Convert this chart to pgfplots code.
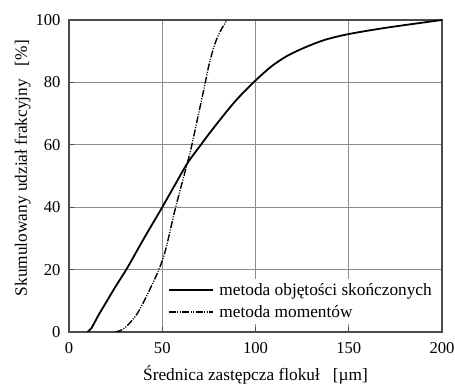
\documentclass[border=0pt]{standalone}
\usepackage{fontspec}
\setmainfont{Liberation Serif}
\usepackage{pgfplots}
\pgfplotsset{compat=1.18}
\begin{document}
\begin{tikzpicture}
\begin{axis}[
  name=ax,
  scale only axis,
  width=373pt, height=312pt,
  xmin=0, xmax=200, ymin=0, ymax=100,
  xtick={0,50,100,150,200},
  ytick={0,20,40,60,80,100},
  font=\fontsize{17.3}{20}\selectfont,
  ticklabel style={font=\fontsize{16.6}{19}\selectfont},
  /pgf/number format/assume math mode=true,
  grid=major,
  major grid style={draw=black!45, line width=0.6pt},
  axis line style={draw=black!70, line width=1.3pt},
  tick style={draw=black!70, line width=0.6pt},
  major tick length=5pt,
  tick align=inside,
  xtick pos=bottom, ytick pos=left,
  yticklabel style={xshift=-5pt},
  xticklabel style={yshift=-7pt},
  xlabel={Średnica zastępcza flokuł \ \ [µm]},
  ylabel={Skumulowany udział frakcyjny \ \ [\%]},
  xlabel style={yshift=-5pt},
  ylabel style={at={(ticklabel cs:0.525)}, yshift=-2pt},
  legend cell align=left,
  legend style={at={(axis cs:200,2.6)}, anchor=south east, xshift=-5pt, draw=none, fill=white,
    font=\fontsize{17.3}{20}\selectfont, inner sep=3pt, row sep=4pt,
    /tikz/every odd column/.append style={column sep=4pt},
    legend image code/.code={\draw[#1] (0pt,0pt) -- (44pt,0pt);}},
]
\addplot[black, line width=1.8pt, smooth, tension=0.5] coordinates {
(9.8,0) (12,1.2) (16,5.6) (20,9.6) (25,14.6) (31.2,20.5) (40,29.8) (50,40)
(56,46.3) (63.4,54) (70.7,60) (77,65) (84.7,70.8) (91,75.2) (100,80.6)
(108.7,85.2) (117,88.5) (126.5,91.2) (137,93.6) (150,95.5) (171,97.6) (200,100)
};
\addlegendentry{metoda objętości skończonych}
\addplot[black, line width=1.4pt, smooth, tension=0.5,
  dash pattern=on 7pt off 1.5pt on 1pt off 1.5pt on 1pt off 1.5pt] coordinates {
(25,0) (30,1.3) (36.6,5.9) (42,12) (48.2,20) (51.8,26.4) (57.2,40) (63.4,54)
(65.9,60) (69.5,70) (73.1,80) (75,85.5) (77,90) (79,93.6) (81.5,96.8) (84.7,100)
};
\addlegendentry{metoda momentów}
\end{axis}
\pgfresetboundingbox
\path ([xshift=-69pt,yshift=-53pt]ax.south west) rectangle ([xshift=13pt,yshift=20pt]ax.north east);
\end{tikzpicture}
\end{document}
